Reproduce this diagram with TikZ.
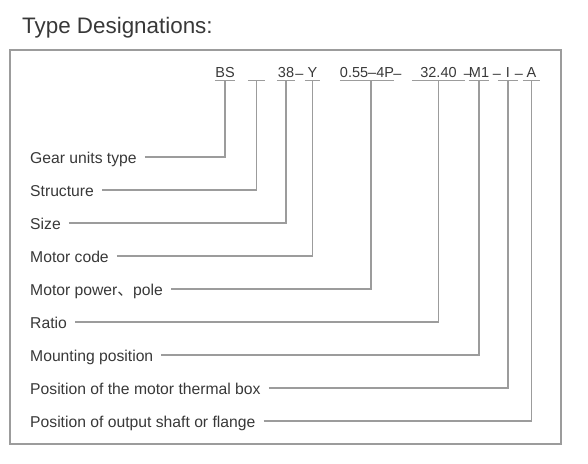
\documentclass[tikz,border=0pt]{standalone}
\usepackage{fontspec}
\setmainfont{Liberation Sans}
\newfontfamily\cjkfont{Noto Sans CJK SC}
\usetikzlibrary{positioning}
\definecolor{txtgray}{HTML}{383838}
\definecolor{linegray}{HTML}{9C9C9C}
\tikzset{
  lbl/.style={anchor=west, inner xsep=8pt, inner ysep=0pt, text height=13pt, text depth=0pt, text=txtgray, font=\fontsize{15.7}{18}\selectfont},
  code/.style={anchor=south, inner sep=0pt, text height=11pt, text depth=2.5pt, text=txtgray, font=\fontsize{14.5}{17}\selectfont},
  sep/.style={anchor=base, inner sep=0pt, text=txtgray, font=\fontsize{14.5}{17}\selectfont},
  link/.style={draw=linegray, line width=1.5pt},
}

\begin{document}
\begin{tikzpicture}[x=1pt, y=-1pt]
    \useasboundingbox (0,0) rectangle (588,463);
    \node[anchor=base west, inner sep=0pt, text=txtgray, font=\fontsize{22.4}{26}\selectfont] (title) at (22,33) {Type Designations:};
    \draw[link] (10,50) rectangle (561,444);

    % designation parts
    \node[code, minimum width=20pt] (bs) at (225,80.5) {BS};
    \node[code, minimum width=17pt] (blank) at (256.5,80.5) {};
    \node[code, minimum width=18pt] (num) at (286,80.5) {38};
    \node[sep] (d1) at (299.5,78) {--};
    \node[code, minimum width=15pt] (y) at (312.5,80.5) {Y};
    \node[code, minimum width=52pt] (pw) at (367,80.5) {0.55--4P};
    \node[sep] (d2) at (397.5,78) {--};
    \node[code, minimum width=53pt] (rt) at (438.5,80.5) {32.40};
    \node[sep] (d3) at (468,78) {--};
    \node[code, minimum width=18pt] (m1) at (479,80.5) {M1};
    \node[sep] (d4) at (497,78) {--};
    \node[code, minimum width=20pt] (tb) at (508,80.5) {I};
    \node[sep] (d5) at (519,78) {--};
    \node[code, minimum width=17pt] (a) at (531.5,80.5) {A};

    % descriptions
    \node[lbl] (gear) at (22,157) {Gear units type};
    \node[lbl] (struct) at (22,190) {Structure};
    \node[lbl] (size) at (22,223) {Size};
    \node[lbl] (motor) at (22,256) {Motor code};
    \node[lbl] (power) at (22,289) {Motor power{\cjkfont 、}pole};
    \node[lbl] (ratio) at (22,322) {Ratio};
    \node[lbl] (mount) at (22,355) {Mounting position};
    \node[lbl] (therm) at (22,388) {Position of the motor thermal box};
    \node[lbl] (shaft) at (22,421) {Position of output shaft or flange};

    % underlines
    \foreach \p in {bs,blank,num,y,pw,rt,m1,tb,a}
        \draw[link] (\p.south west) -- (\p.south east);

    \draw[link] (gear.east) -| (bs.south);
    \draw[link] (struct.east) -| (blank.south);
    \draw[link] (size.east) -| (num.south);
    \draw[link] (motor.east) -| (y.south);
    \draw[link] (power.east) -| ([xshift=4pt]pw.south);
    \draw[link] (ratio.east) -| (rt.south);
    \draw[link] (mount.east) -| (m1.south);
    \draw[link] (therm.east) -| (tb.south);
    \draw[link] (shaft.east) -| (a.south);
\end{tikzpicture}
\end{document}
